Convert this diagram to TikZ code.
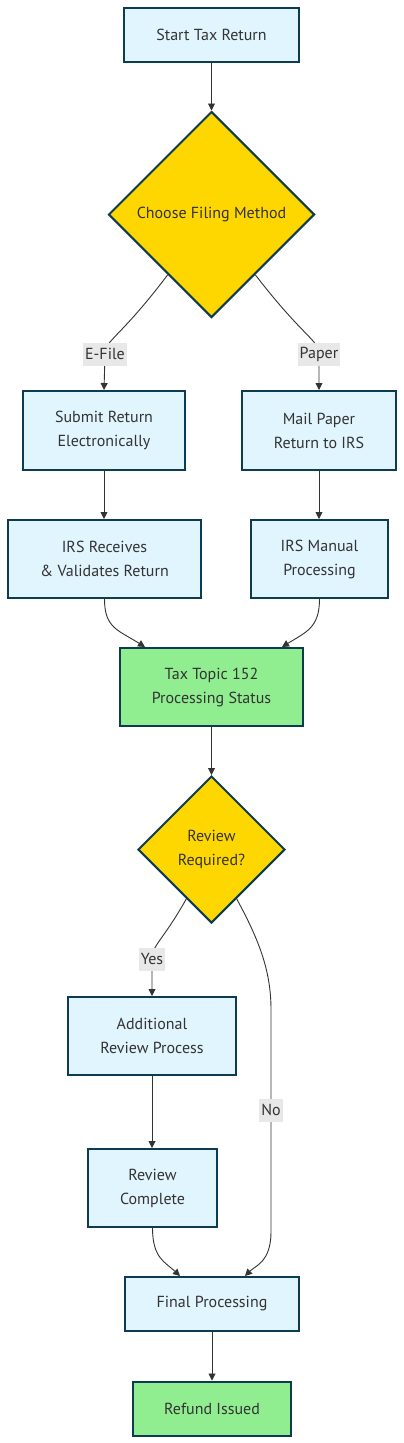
\documentclass[tikz,border=0pt]{standalone}
\usepackage{fontspec}
\setmainfont{PT Sans}
\usetikzlibrary{shapes.geometric,arrows.meta}
\definecolor{boxfill}{HTML}{E1F5FE}
\definecolor{boxline}{HTML}{0D3B4F}
\definecolor{gold}{HTML}{FFD700}
\definecolor{lgreen}{HTML}{90EE90}
\definecolor{txt}{HTML}{333333}
\definecolor{lblbg}{HTML}{E8E8E8}
\definecolor{edgec}{HTML}{333333}
\begin{document}
\begin{tikzpicture}[x=1pt,y=-1pt,
  every node/.style={font=\fontsize{16}{24}\selectfont, text=txt},
  proc/.style={draw=boxline, line width=2pt, fill=boxfill, inner sep=0pt, align=center},
  okbox/.style={proc, fill=lgreen},
  decide/.style={diamond, draw=boxline, line width=2pt, fill=gold, inner sep=0pt, aspect=1, align=center},
  edge/.style={draw=edgec, line width=0.9pt, -{Triangle[length=7pt,width=7pt]}},
  lbl/.style={fill=lblbg, inner xsep=2pt, inner ysep=0pt, minimum height=23pt, text=txt}
]
\useasboundingbox (0,0) rectangle (404,1443);
\fill[white] (0,0) rectangle (404,1443);

\node[proc, minimum width=175pt, minimum height=54pt] (start) at (211.5,35) {Start Tax Return};
\node[decide, minimum width=206pt, minimum height=206pt] (d1) at (211.5,214.5) {Choose Filing Method};
\node[proc, minimum width=162pt, minimum height=79pt] (submit) at (104,430.5) {Submit Return\\Electronically};
\node[proc, minimum width=154pt, minimum height=79pt] (mail) at (319,430.5) {Mail Paper\\Return to IRS};
\node[proc, minimum width=193pt, minimum height=78pt] (irsr) at (104.5,559) {IRS Receives\\\& Validates Return};
\node[proc, minimum width=137pt, minimum height=78pt] (manual) at (319.5,559) {IRS Manual\\Processing};
\node[okbox, minimum width=183pt, minimum height=78pt] (tax) at (211.5,687) {Tax Topic 152\\Processing Status};
\node[decide, minimum width=147pt, minimum height=147pt] (d2) at (211.5,849.5) {Review\\Required?};
\node[proc, minimum width=168pt, minimum height=78pt] (addrev) at (152,1036) {Additional\\Review Process};
\node[proc, minimum width=129pt, minimum height=78pt] (revc) at (152.5,1188) {Review\\Complete};
\node[proc, minimum width=174pt, minimum height=54pt] (final) at (212,1304) {Final Processing};
\node[okbox, minimum width=158pt, minimum height=54pt] (refund) at (212,1408.5) {Refund Issued};

\draw[edge] (start.south) -- (d1.north);
\draw[edge] (d1.-126) .. controls (120,338) and (105,340) .. (105,354) node[lbl] {E-File} -- (submit.north);
\draw[edge] (d1.-54) .. controls (304,338) and (319,340) .. (319,354) node[lbl] {Paper} -- (mail.north);
\draw[edge] (submit.south) -- (irsr.north -| submit.south);
\draw[edge] (mail.south) -- (manual.north -| mail.south);
\draw[edge] (irsr.south) .. controls (104.5,628) and (118,630) .. ([xshift=-66.5pt]tax.north);
\draw[edge] (manual.south) .. controls (319.5,628) and (306,632) .. ([xshift=70.5pt]tax.north);
\draw[edge] (tax.south) -- (d2.north);
\draw[edge] (d2.-117) .. controls (162,942) and (152,945) .. (152,959) node[lbl] {Yes} -- (addrev.north);
\draw[edge] (addrev.south) -- (revc.north -| addrev.south);
\draw[edge] (d2.-63) .. controls (262,945) and (271,975) .. (271,1010) -- (271,1110) node[lbl] {No} -- (271,1232) .. controls (271,1262) and (255,1266) .. ([xshift=33pt]final.north);
\draw[edge] (revc.south) .. controls (152.5,1258) and (165,1262) .. ([xshift=-32pt]final.north);
\draw[edge] (final.south) -- (refund.north);
\end{tikzpicture}
\end{document}
